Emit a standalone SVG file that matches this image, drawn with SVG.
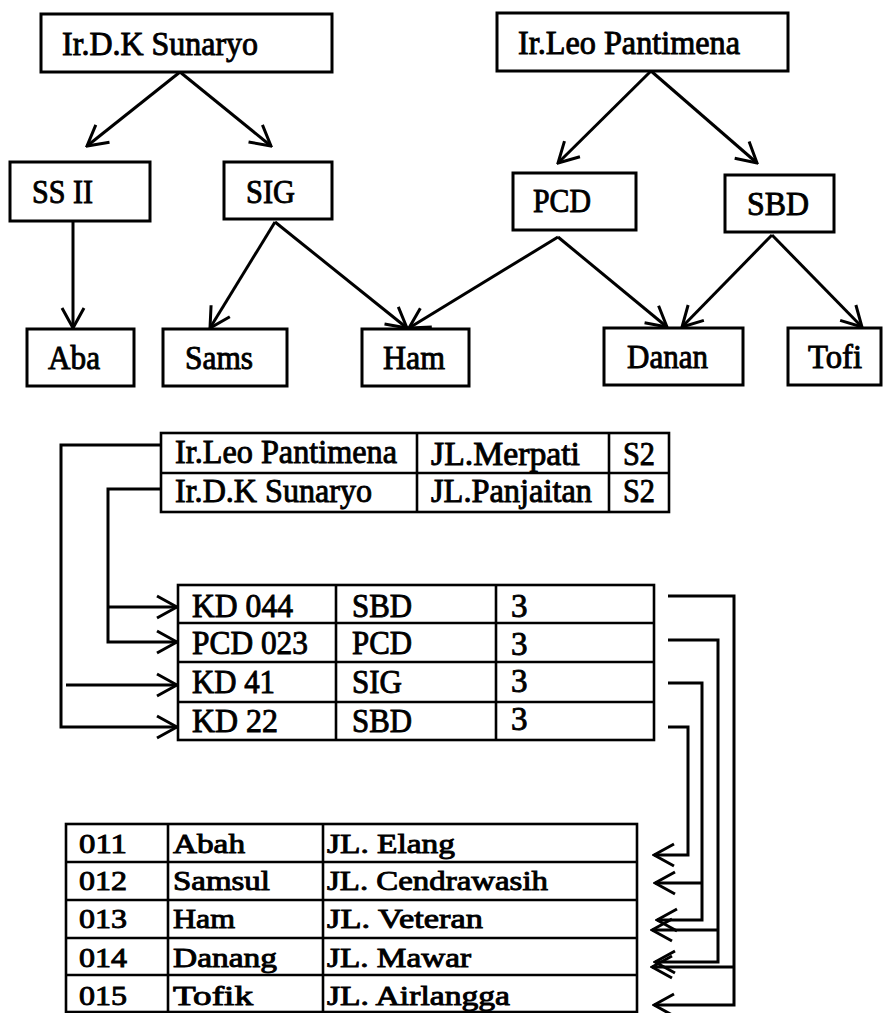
<svg xmlns="http://www.w3.org/2000/svg" width="884" height="1013" viewBox="0 0 884 1013">
<style>
.bx{fill:#fff;stroke:#000;stroke-width:3}
.tl{fill:none;stroke:#000;stroke-width:2.6}
.t{font-family:"Liberation Serif","Times New Roman",serif;font-size:33px;fill:#000;stroke:#000;stroke-width:0.9}
.ts{font-family:"Liberation Serif","Times New Roman",serif;font-size:27px;fill:#000;stroke:#000;stroke-width:0.9}
.c{fill:none;stroke:#000;stroke-width:3;stroke-linejoin:miter}
.ca{fill:none;stroke:#000;stroke-width:3;marker-end:url(#ah)}
</style>
<defs>
<marker id="ah" markerUnits="userSpaceOnUse" viewBox="0 0 24 26" refX="22" refY="13" markerWidth="24" markerHeight="26" orient="auto">
<path d="M2,2 L22,13 L2,24" fill="none" stroke="#000" stroke-width="3"/>
</marker>
</defs>

<g id="connectors">
<line class="ca" x1="180" y1="72" x2="87" y2="146"/>
<line class="ca" x1="180" y1="72" x2="271" y2="146"/>
<line class="ca" x1="651" y1="71" x2="558" y2="163"/>
<line class="ca" x1="651" y1="71" x2="757" y2="163"/>
<line class="ca" x1="73" y1="221" x2="73" y2="328"/>
<line class="ca" x1="275" y1="222" x2="210" y2="328"/>
<line class="ca" x1="275" y1="222" x2="407" y2="328"/>
<line class="ca" x1="558" y1="237" x2="409" y2="328"/>
<line class="ca" x1="558" y1="237" x2="667" y2="327"/>
<line class="ca" x1="772" y1="235" x2="682" y2="327"/>
<line class="ca" x1="772" y1="235" x2="862" y2="327"/>

<polyline class="ca" points="161,445 61,445 61,727 177,727"/>
<polyline class="ca" points="161,489 108,489 108,642 177,642"/>
<polyline class="ca" points="108,607 177,607"/>
<polyline class="ca" points="66,685 177,685"/>

<polyline class="ca" points="668,596 734,596 734,1005 654,1005"/>
<polyline class="ca" points="734,967 652,967"/>
<polyline class="ca" points="668,640 718,640 718,962 655,962"/>
<polyline class="ca" points="718,930 652,930"/>
<polyline class="ca" points="668,683 702,683 702,920 657,920"/>
<polyline class="ca" points="702,883 655,883"/>
<polyline class="ca" points="668,727 688,727 688,855 654,855"/>
</g>

<g id="node-sunaryo"><rect class="bx" x="41" y="14" width="291" height="58"/><text class="t" x="62" y="55" textLength="196" lengthAdjust="spacingAndGlyphs">Ir.D.K Sunaryo</text></g>
<g id="node-leo"><rect class="bx" x="497" y="13" width="291" height="58"/><text class="t" x="518" y="54" textLength="222" lengthAdjust="spacingAndGlyphs">Ir.Leo Pantimena</text></g>
<g id="node-ss2"><rect class="bx" x="10" y="162" width="140" height="59"/><text class="t" x="32" y="203" textLength="61" lengthAdjust="spacingAndGlyphs">SS II</text></g>
<g id="node-sig"><rect class="bx" x="224" y="162" width="108" height="57"/><text class="t" x="246" y="203" textLength="49" lengthAdjust="spacingAndGlyphs">SIG</text></g>
<g id="node-pcd"><rect class="bx" x="513" y="173" width="123" height="57"/><text class="t" x="533" y="212" textLength="58" lengthAdjust="spacingAndGlyphs">PCD</text></g>
<g id="node-sbd"><rect class="bx" x="725" y="175" width="109" height="57"/><text class="t" x="747" y="215" textLength="62" lengthAdjust="spacingAndGlyphs">SBD</text></g>
<g id="node-aba"><rect class="bx" x="27" y="329" width="107" height="57"/><text class="t" x="48" y="369" textLength="52" lengthAdjust="spacingAndGlyphs">Aba</text></g>
<g id="node-sams"><rect class="bx" x="163" y="329" width="124" height="57"/><text class="t" x="185" y="369" textLength="68" lengthAdjust="spacingAndGlyphs">Sams</text></g>
<g id="node-ham"><rect class="bx" x="362" y="329" width="107" height="57"/><text class="t" x="383" y="369" textLength="62" lengthAdjust="spacingAndGlyphs">Ham</text></g>
<g id="node-danan"><rect class="bx" x="604" y="328" width="139" height="57"/><text class="t" x="627" y="368" textLength="81" lengthAdjust="spacingAndGlyphs">Danan</text></g>
<g id="node-tofi"><rect class="bx" x="788" y="328" width="93" height="57"/><text class="t" x="808" y="368" textLength="54" lengthAdjust="spacingAndGlyphs">Tofi</text></g>

<g id="table-dosen">
<rect class="tl" x="161" y="433" width="508" height="79"/>
<line class="tl" x1="161" y1="473" x2="669" y2="473"/>
<line class="tl" x1="417" y1="433" x2="417" y2="512"/>
<line class="tl" x1="609" y1="433" x2="609" y2="512"/>
<text class="t" x="175" y="463" textLength="222" lengthAdjust="spacingAndGlyphs">Ir.Leo Pantimena</text>
<text class="t" x="431" y="465" textLength="149" lengthAdjust="spacingAndGlyphs">JL.Merpati</text>
<text class="t" x="623" y="465" textLength="32" lengthAdjust="spacingAndGlyphs">S2</text>
<text class="t" x="175" y="502" textLength="197" lengthAdjust="spacingAndGlyphs">Ir.D.K Sunaryo</text>
<text class="t" x="431" y="502" textLength="161" lengthAdjust="spacingAndGlyphs">JL.Panjaitan</text>
<text class="t" x="623" y="502" textLength="32" lengthAdjust="spacingAndGlyphs">S2</text>
</g>

<g id="table-matakuliah">
<rect class="tl" x="178" y="585" width="476" height="155"/>
<line class="tl" x1="178" y1="623" x2="654" y2="623"/>
<line class="tl" x1="178" y1="662" x2="654" y2="662"/>
<line class="tl" x1="178" y1="702" x2="654" y2="702"/>
<line class="tl" x1="336" y1="585" x2="336" y2="740"/>
<line class="tl" x1="496" y1="585" x2="496" y2="740"/>
<text class="t" x="192" y="617" textLength="101" lengthAdjust="spacingAndGlyphs">KD 044</text>
<text class="t" x="352" y="617" textLength="60" lengthAdjust="spacingAndGlyphs">SBD</text>
<text class="t" x="511" y="617">3</text>
<text class="t" x="192" y="654" textLength="116" lengthAdjust="spacingAndGlyphs">PCD 023</text>
<text class="t" x="352" y="654" textLength="60" lengthAdjust="spacingAndGlyphs">PCD</text>
<text class="t" x="511" y="655">3</text>
<text class="t" x="192" y="693" textLength="83" lengthAdjust="spacingAndGlyphs">KD 41</text>
<text class="t" x="352" y="693" textLength="50" lengthAdjust="spacingAndGlyphs">SIG</text>
<text class="t" x="511" y="692">3</text>
<text class="t" x="192" y="732" textLength="86" lengthAdjust="spacingAndGlyphs">KD 22</text>
<text class="t" x="352" y="732" textLength="60" lengthAdjust="spacingAndGlyphs">SBD</text>
<text class="t" x="511" y="730">3</text>
</g>

<g id="table-mahasiswa">
<rect class="tl" x="66" y="824" width="571" height="188"/>
<line class="tl" x1="66" y1="862" x2="637" y2="862"/>
<line class="tl" x1="66" y1="900" x2="637" y2="900"/>
<line class="tl" x1="66" y1="938" x2="637" y2="938"/>
<line class="tl" x1="66" y1="975" x2="637" y2="975"/>
<line class="tl" x1="168" y1="824" x2="168" y2="1012"/>
<line class="tl" x1="323" y1="824" x2="323" y2="1012"/>
<text class="ts" x="79" y="853" textLength="48" lengthAdjust="spacingAndGlyphs">011</text>
<text class="ts" x="173" y="853" textLength="72" lengthAdjust="spacingAndGlyphs">Abah</text>
<text class="ts" x="327" y="853" textLength="128" lengthAdjust="spacingAndGlyphs">JL. Elang</text>
<text class="ts" x="79" y="890" textLength="48" lengthAdjust="spacingAndGlyphs">012</text>
<text class="ts" x="173" y="890" textLength="97" lengthAdjust="spacingAndGlyphs">Samsul</text>
<text class="ts" x="327" y="890" textLength="221" lengthAdjust="spacingAndGlyphs">JL. Cendrawasih</text>
<text class="ts" x="79" y="928" textLength="48" lengthAdjust="spacingAndGlyphs">013</text>
<text class="ts" x="173" y="928" textLength="62" lengthAdjust="spacingAndGlyphs">Ham</text>
<text class="ts" x="327" y="928" textLength="156" lengthAdjust="spacingAndGlyphs">JL. Veteran</text>
<text class="ts" x="79" y="967" textLength="48" lengthAdjust="spacingAndGlyphs">014</text>
<text class="ts" x="173" y="967" textLength="104" lengthAdjust="spacingAndGlyphs">Danang</text>
<text class="ts" x="327" y="967" textLength="144" lengthAdjust="spacingAndGlyphs">JL. Mawar</text>
<text class="ts" x="79" y="1005" textLength="48" lengthAdjust="spacingAndGlyphs">015</text>
<text class="ts" x="173" y="1005" textLength="80" lengthAdjust="spacingAndGlyphs">Tofik</text>
<text class="ts" x="327" y="1005" textLength="183" lengthAdjust="spacingAndGlyphs">JL. Airlangga</text>
</g>
</svg>
